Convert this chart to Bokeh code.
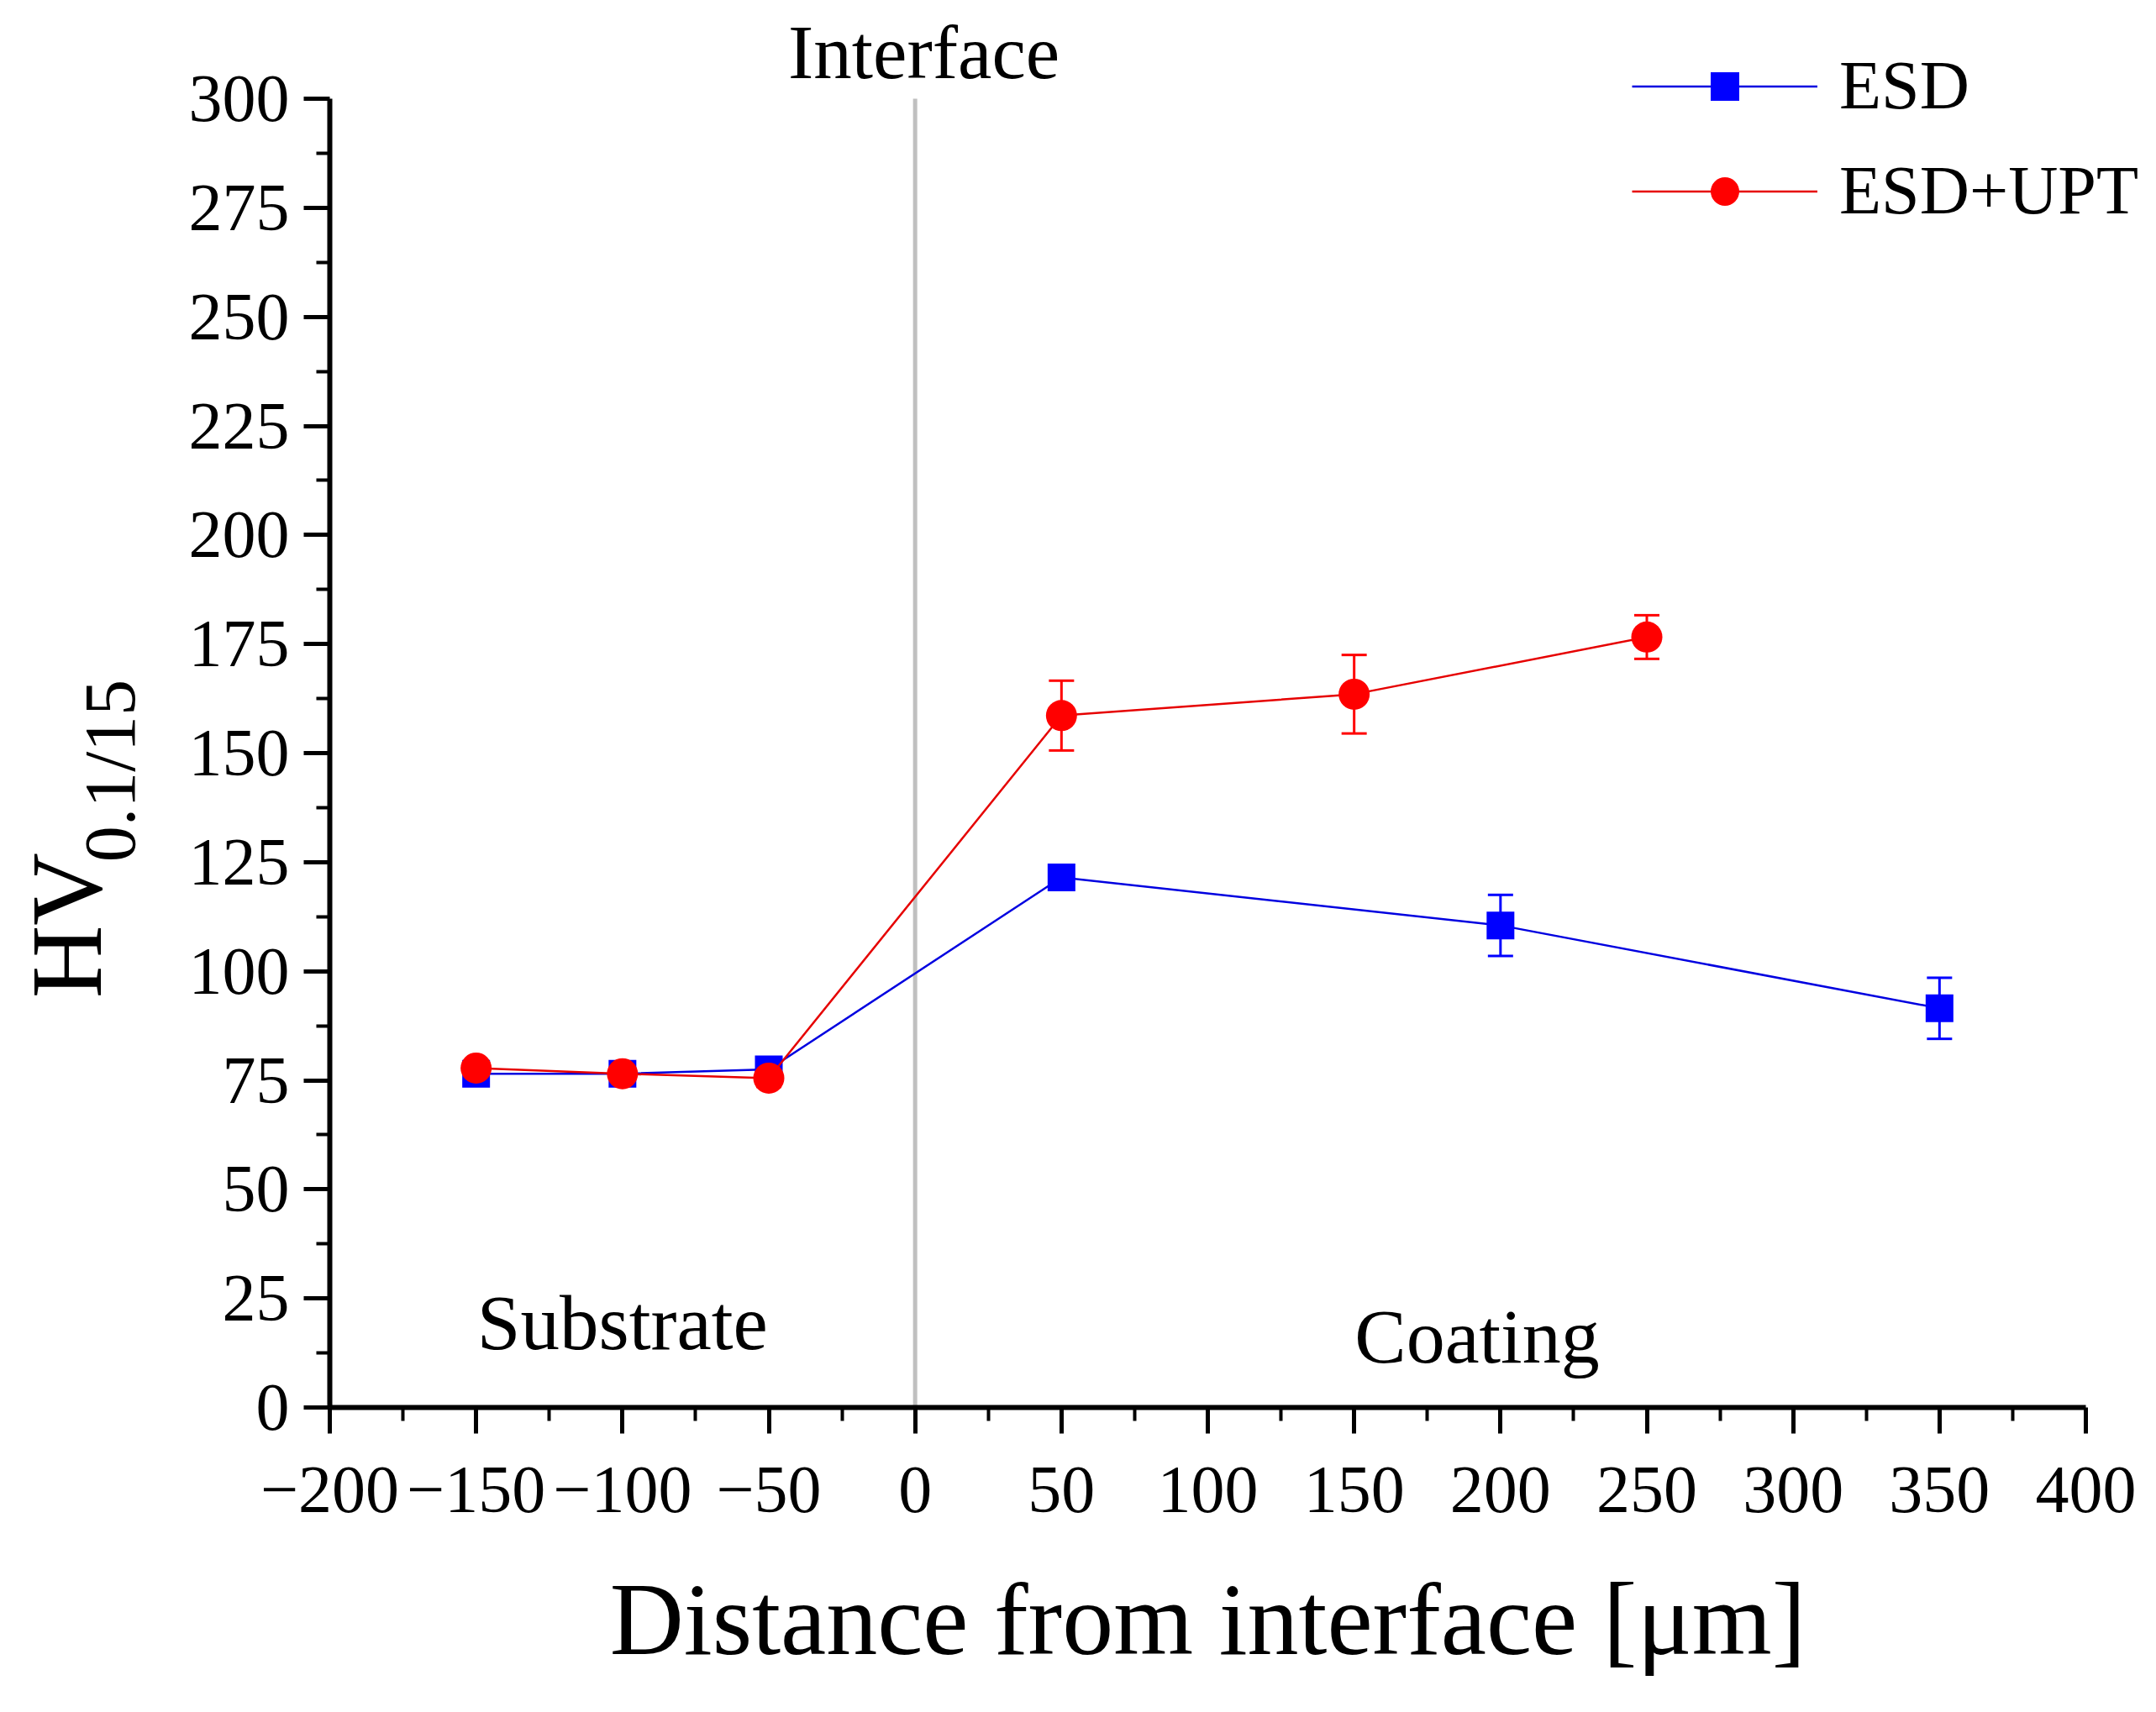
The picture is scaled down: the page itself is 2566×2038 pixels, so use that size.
import numpy as np
from bokeh.plotting import figure
from bokeh.models import (ColumnDataSource, Whisker, TeeHead, Label, Legend,
                          LegendItem, FixedTicker, Range1d)
from bokeh.embed import file_html
from bokeh.resources import INLINE

# ---- data ----
esd_x = [-150, -100, -50, 50, 200, 350]
esd_y = [76.5, 76.5, 77.5, 121.5, 110.5, 91.5]
esd_err = [1.5, 1.0, 1.0, 2.0, 7.0, 7.0]

upt_x = [-150, -100, -50, 50, 150, 250]
upt_y = [77.8, 76.5, 75.5, 158.6, 163.5, 176.6]
upt_err = [1.0, 1.0, 2.0, 8.0, 9.0, 5.0]

interface_x = [0]

x_ticks = [-200, -150, -100, -50, 0, 50, 100, 150, 200, 250, 300, 350, 400]
x_tick_labels = ["\u2212200", "\u2212150", "\u2212100", "\u221250", "0", "50", "100",
                 "150", "200", "250", "300", "350", "400"]
x_minor = [-175, -125, -75, -25, 25, 75, 125, 175, 225, 275, 325, 375]
y_ticks = [0, 25, 50, 75, 100, 125, 150, 175, 200, 225, 250, 275, 300]
y_minor = [12.5, 37.5, 62.5, 87.5, 112.5, 137.5, 162.5, 187.5, 212.5, 237.5, 262.5, 287.5]

FONT = "Liberation Serif"
BLUE = "#0000ff"
RED = "#ff0000"

# ---- canvas geometry: frame covers the whole canvas, axes sit at fixed locations ----
W, H = 2548, 2016
AX_L, AX_R, AX_T, AX_B = 392, 2482, 117, 1675   # pixel position of the axes box
xs = (AX_R - AX_L) / (x_ticks[-1] - x_ticks[0])
ys = (AX_B - AX_T) / (y_ticks[-1] - y_ticks[0])
x0 = x_ticks[0] - AX_L / xs
x1 = x_ticks[-1] + (W - AX_R) / xs
y1 = y_ticks[-1] + AX_T / ys
y0 = y_ticks[0] - (H - AX_B) / ys

p = figure(width=W, height=H, output_backend="svg", toolbar_location=None,
           x_range=Range1d(x0, x1), y_range=Range1d(y0, y1),
           min_border=0)
p.outline_line_color = None
p.xgrid.visible = False
p.ygrid.visible = False
p.background_fill_color = "white"
p.border_fill_color = "white"

# interface line
p.segment(x0=interface_x, y0=[y_ticks[0]], x1=interface_x, y1=[y_ticks[-1]],
          line_color="#c0c0c0", line_width=5)

esd_src = ColumnDataSource(dict(x=esd_x, y=esd_y,
                                upper=[v + e for v, e in zip(esd_y, esd_err)],
                                lower=[v - e for v, e in zip(esd_y, esd_err)]))
upt_src = ColumnDataSource(dict(x=upt_x, y=upt_y,
                                upper=[v + e for v, e in zip(upt_y, upt_err)],
                                lower=[v - e for v, e in zip(upt_y, upt_err)]))

for src, col in ((esd_src, BLUE), (upt_src, RED)):
    p.add_layout(Whisker(source=src, base="x", upper="upper", lower="lower",
                         dimension="height", line_color=col, line_width=3,
                         upper_head=TeeHead(size=30, line_color=col, line_width=3),
                         lower_head=TeeHead(size=30, line_color=col, line_width=3)))

l1 = p.line("x", "y", source=esd_src, line_color="#0000e0", line_width=2.5)
s1 = p.scatter("x", "y", source=esd_src, marker="square", size=33,
               fill_color=BLUE, line_color=BLUE, line_width=0)
l2 = p.line("x", "y", source=upt_src, line_color="#e60000", line_width=2.5)
s2 = p.scatter("x", "y", source=upt_src, marker="circle", size=37,
               fill_color=RED, line_color=RED, line_width=0)

# axes
for ax in (p.xaxis[0], p.yaxis[0]):
    ax.axis_line_width = 6
    ax.axis_line_color = "black"
    ax.major_tick_in = 0
    ax.minor_tick_in = 0
    ax.major_tick_out = 31
    ax.minor_tick_out = 16
    ax.major_tick_line_width = 5
    ax.minor_tick_line_width = 4
    ax.major_tick_line_color = "black"
    ax.minor_tick_line_color = "black"
    ax.major_label_text_font = FONT
    ax.major_label_text_font_size = "80px"
    ax.major_label_text_color = "black"

p.xaxis.fixed_location = y_ticks[0]
p.xaxis.bounds = (x_ticks[0], x_ticks[-1])
p.xaxis.ticker = FixedTicker(ticks=x_ticks, minor_ticks=x_minor)
p.xaxis.major_label_overrides = {t: s for t, s in zip(x_ticks, x_tick_labels)}
p.xaxis.major_label_standoff = 40
p.xaxis.axis_label = "Distance from interface [\u03bcm]"
p.xaxis.axis_label_text_font = FONT
p.xaxis.axis_label_text_font_size = "122px"
p.xaxis.axis_label_text_font_style = "normal"
p.xaxis.axis_label_text_color = "black"
p.xaxis.axis_label_standoff = 57

p.yaxis.fixed_location = x_ticks[0]
p.yaxis.bounds = (y_ticks[0], y_ticks[-1])
p.yaxis.ticker = FixedTicker(ticks=y_ticks, minor_ticks=y_minor)
p.yaxis.major_label_standoff = 17

# y-axis label with subscript (rotated labels)
p.add_layout(Label(x=-289.9, y=93.8, text="HV", angle=np.pi / 2,
                   text_font=FONT, text_font_size="120px", text_color="black",
                   text_align="left", text_baseline="alphabetic"))
p.add_layout(Label(x=-275.2, y=125.0, text="0.1/15", angle=np.pi / 2,
                   text_font=FONT, text_font_size="86px", text_color="black",
                   text_align="left", text_baseline="alphabetic"))

# region annotations
p.add_layout(Label(x=3, y=310.6, text="Interface", text_font=FONT,
                   text_font_size="91px", text_color="black",
                   text_align="center", text_baseline="alphabetic"))
p.add_layout(Label(x=-100, y=19.4, text="Substrate", text_font=FONT,
                   text_font_size="93px", text_color="black",
                   text_align="center", text_baseline="alphabetic"))
p.add_layout(Label(x=192, y=16.2, text="Coating", text_font=FONT,
                   text_font_size="92px", text_color="black",
                   text_align="center", text_baseline="alphabetic"))

legend = Legend(items=[LegendItem(label="ESD", renderers=[l1, s1]),
                       LegendItem(label="ESD+UPT", renderers=[l2, s2])],
                location=(1942, 1742), glyph_width=221, glyph_height=85,
                label_standoff=26, spacing=31, padding=0, margin=0,
                border_line_color=None, background_fill_alpha=0,
                label_text_font=FONT, label_text_font_size="82px",
                label_text_color="black")
p.add_layout(legend)

open("out.html", "w").write(file_html(p, INLINE))
